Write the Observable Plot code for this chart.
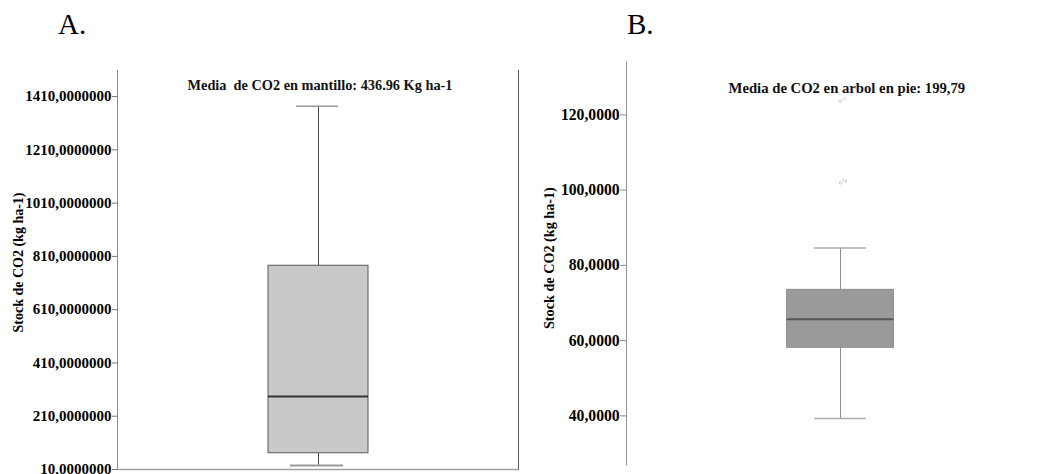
<!DOCTYPE html>
<html>
<head>
<meta charset="utf-8">
<script src="https://cdn.jsdelivr.net/npm/d3@7"></script>
<script src="https://cdn.jsdelivr.net/npm/@observablehq/plot@0.6"></script>
<style>
  html, body { margin: 0; padding: 0; background: #fff; overflow: hidden; }
  #wrap { position: relative; width: 1057px; height: 474px; overflow: hidden; background: #fff; }
  .panel { position: absolute; top: 0; }
  .tag { position: absolute; font-family: "Liberation Serif", "DejaVu Serif", serif; font-size: 29px; color: #000; line-height: 1; }
  svg { overflow: visible; }
</style>
</head>
<body>
<div id="wrap">
  <div class="tag" id="tagA" style="left:58px; top:10px;"></div>
  <div class="tag" id="tagB" style="left:627px; top:10px;"></div>
  <div class="panel" id="pA" style="left:0px;"></div>
  <div class="panel" id="pB" style="left:530px;"></div>
</div>
<script>
// ---------- data ----------
const panelTags = ["A.", "B."];
const titles = [
  "Media  de CO2 en mantillo: 436.96 Kg ha-1",
  "Media de CO2 en arbol en pie: 199,79"
];
const yLabel = "Stock de CO2 (kg ha-1)";
const categoriesA = ["mantillo"];
const categoriesB = ["arbol en pie"];
// box stats: [min whisker, q1, median, q3, max whisker]
const statsA = [25, 71, 284, 775, 1374];
const statsB = [39.3, 58.1, 65.7, 73.5, 84.6];
const outliersB = [123.6, 101.9];
const outlierLabelsB = ["2", "14"];
const ticksA = [10, 210, 410, 610, 810, 1010, 1210, 1410];
const ticksB = [40, 60, 80, 100, 120];
const domainA = [10, 1508];
const domainB = [27, 134];

document.getElementById("tagA").textContent = panelTags[0];
document.getElementById("tagB").textContent = panelTags[1];

function boxRow(cat, s) {
  return {cat, lo: s[0], q1: s[1], med: s[2], q3: s[3], hi: s[4]};
}

const font = "Liberation Serif, DejaVu Serif, serif";

// ---------- Panel A ----------
const rowA = [boxRow(categoriesA[0], statsA)];
const chartA = Plot.plot({
  width: 530,
  height: 474,
  marginLeft: 117,
  marginRight: 12,
  marginTop: 70,
  marginBottom: 5,
  style: {fontFamily: font, fontWeight: "bold", fontSize: "15px", background: "transparent", color: "#000"},
  x: {type: "band", domain: categoriesA, padding: 0.6, axis: null},
  y: {domain: domainA},
  marks: [
    Plot.frame({anchor: "left", stroke: "#8c8c8c"}),
    Plot.frame({anchor: "right", stroke: "#555"}),
    Plot.frame({anchor: "bottom", stroke: "#a0a0a0", strokeWidth: 1.5}),
    Plot.axisY({
      ticks: ticksA, tickSize: 5, tickPadding: 1, stroke: "#777",
      tickFormat: d => d + ",0000000",
      label: null, fontSize: 15
    }),
    Plot.text([yLabel], {frameAnchor: "left", textAnchor: "middle", dx: -99, dy: -7.5, rotate: -90, fontSize: 14, fontWeight: "bold", fill: "#000"}),
    Plot.ruleX(rowA, {x: "cat", y1: "q3", y2: "hi", stroke: "#444"}),
    Plot.ruleX(rowA, {x: "cat", y1: "lo", y2: "q1", stroke: "#444"}),
    Plot.tickY(rowA, {x: "cat", y: "hi", stroke: "#9a9a9a", strokeWidth: 1.5, insetLeft: 28, insetRight: 30}),
    Plot.tickY(rowA, {x: "cat", y: "lo", stroke: "#9a9a9a", strokeWidth: 2, insetLeft: 22, insetRight: 25}),
    Plot.barY(rowA, {x: "cat", y1: "q1", y2: "q3", fill: "#c9c9c9", stroke: "#5a5a5a", strokeWidth: 1}),
    Plot.tickY(rowA, {x: "cat", y: "med", stroke: "#333", strokeWidth: 2}),
    Plot.text([titles[0]], {frameAnchor: "top", dy: 9, dx: 2, fontSize: 14.3, fontWeight: "bold", fill: "#111"})
  ]
});
document.getElementById("pA").appendChild(chartA);

// ---------- Panel B ----------
const rowB = [boxRow(categoriesB[0], statsB)];
const outB = outliersB.map((v, i) => ({cat: categoriesB[0], v, lab: outlierLabelsB[i]}));
const chartB = Plot.plot({
  width: 538,
  height: 474,
  marginLeft: 98,
  marginRight: 2,
  marginTop: 63,
  marginBottom: 0,
  style: {fontFamily: font, fontWeight: "bold", fontSize: "16px", background: "transparent", color: "#000"},
  x: {type: "band", domain: categoriesB, padding: 0.6, axis: null},
  y: {domain: domainB},
  marks: [
    Plot.frame({anchor: "left", stroke: "#8c8c8c"}),
    Plot.axisY({
      ticks: ticksB, tickSize: 6, tickPadding: 1, stroke: "#888",
      tickFormat: d => d + ",0000",
      label: null, fontSize: 16
    }),
    Plot.text([yLabel], {frameAnchor: "left", textAnchor: "middle", dx: -79, dy: -5.5, rotate: -90, fontSize: 14.5, fontWeight: "bold", fill: "#000"}),
    Plot.ruleX(rowB, {x: "cat", y1: "q3", y2: "hi", stroke: "#8a8a8a"}),
    Plot.ruleX(rowB, {x: "cat", y1: "lo", y2: "q1", stroke: "#8a8a8a"}),
    Plot.tickY(rowB, {x: "cat", y: "hi", stroke: "#aaa", strokeWidth: 1.5, insetLeft: 28, insetRight: 28}),
    Plot.tickY(rowB, {x: "cat", y: "lo", stroke: "#aaa", strokeWidth: 1.5, insetLeft: 28, insetRight: 28}),
    Plot.barY(rowB, {x: "cat", y1: "q1", y2: "q3", fill: "#9a9a9a", stroke: "#8a8a8a", strokeWidth: 1}),
    Plot.tickY(rowB, {x: "cat", y: "med", stroke: "#555", strokeWidth: 2}),
    Plot.dot(outB, {x: "cat", y: "v", r: 1.2, stroke: "#bbb", strokeWidth: 0.8}),
    Plot.text(outB, {x: "cat", y: "v", text: "lab", dx: 4, dy: -3, fontSize: 5, fill: "#999", fontWeight: "normal"}),
    Plot.text([titles[1]], {frameAnchor: "top", dy: 21, dx: 6, fontSize: 15, fontWeight: "bold", fill: "#111"})
  ]
});
document.getElementById("pB").appendChild(chartB);
</script>
</body>
</html>
